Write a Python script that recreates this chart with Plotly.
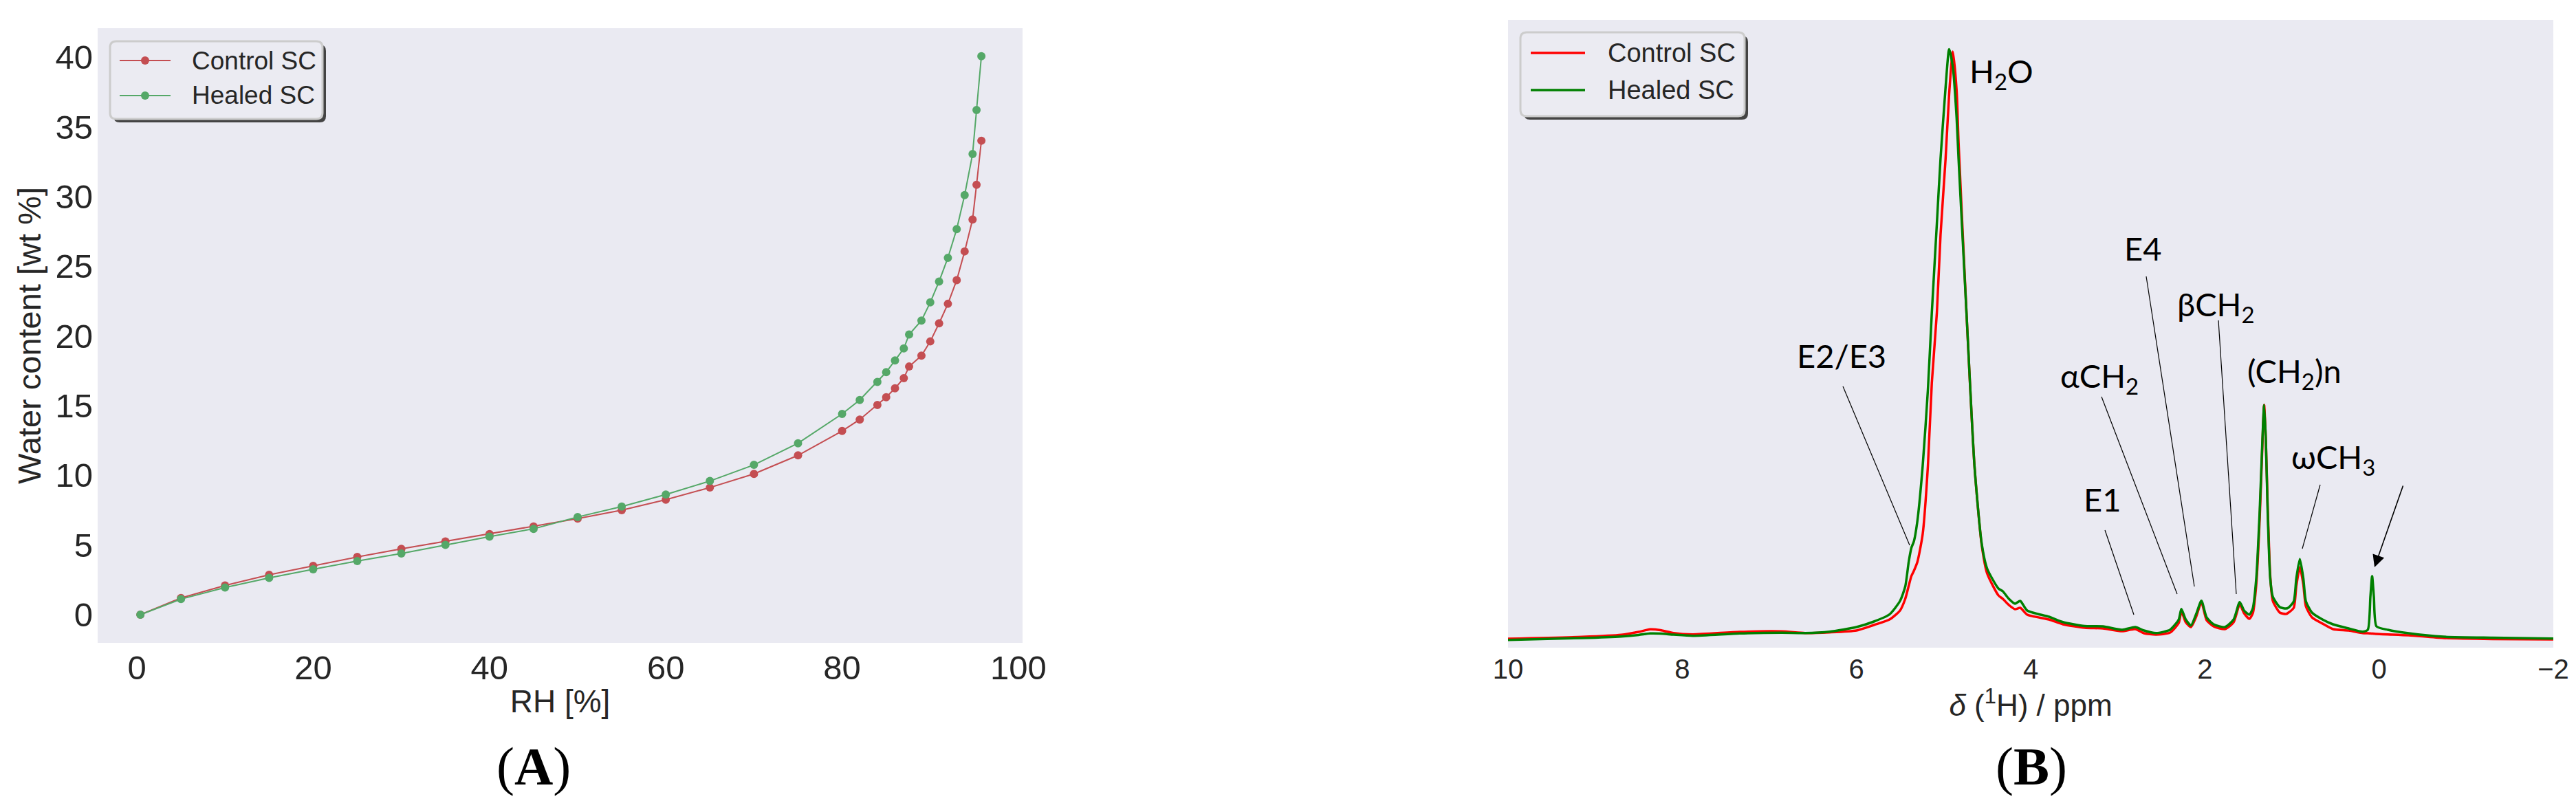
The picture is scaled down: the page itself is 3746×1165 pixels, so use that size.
import plotly.graph_objects as go

W, H = 3746, 1165

# ---- panel A: sorption isotherm ----
rh = [0.4, 5, 10, 15, 20, 25, 30, 35, 40, 45, 50, 55, 60, 65, 70, 75,
      80, 82, 84, 85, 86, 87, 87.6, 89, 90, 91, 92, 93, 93.9, 94.8, 95.25, 95.8]
water_control = [0, 1.2, 2.1, 2.86, 3.5, 4.14, 4.72, 5.26, 5.78, 6.33, 6.89, 7.5, 8.25, 9.12, 10.1, 11.43,
                 13.18, 14.0, 15.04, 15.6, 16.24, 16.97, 17.8, 18.58, 19.6, 20.9, 22.3, 24.0, 26.06, 28.35, 30.84, 34.0]
water_healed = [0, 1.12, 1.95, 2.64, 3.26, 3.85, 4.39, 5.01, 5.6, 6.16, 7.01, 7.76, 8.62, 9.59, 10.75, 12.3,
                14.4, 15.4, 16.7, 17.4, 18.24, 19.1, 20.1, 21.1, 22.4, 23.9, 25.6, 27.66, 30.1, 33.04, 36.2, 40.06]

# ---- panel B: 1H NMR spectra (intensity in a.u.) ----
ppm = [10.0, 9.15, 8.70, 8.50, 8.37, 8.25, 8.10, 7.88, 7.34, 6.86, 6.59, 6.31, 6.00, 5.80, 5.62, 5.50,
       5.44, 5.40, 5.37, 5.34, 5.30, 5.24, 5.18, 5.135, 5.077, 5.035, 4.977, 4.936, 4.894, 4.85, 4.828,
       4.737, 4.645, 4.563, 4.50, 4.37, 4.32, 4.25, 4.18, 4.12, 4.04, 3.79, 3.63, 3.38, 3.17, 2.95, 2.80,
       2.70, 2.56, 2.40, 2.30, 2.27, 2.22, 2.16, 2.10, 2.04, 1.98, 1.90, 1.77, 1.67, 1.60, 1.55, 1.49,
       1.45, 1.41, 1.37, 1.34, 1.32, 1.30, 1.28, 1.25, 1.22, 1.14, 1.07, 1.04, 0.98, 0.95, 0.91, 0.87,
       0.84, 0.77, 0.65, 0.53, 0.35, 0.19, 0.13, 0.10, 0.08, 0.06, 0.03, -0.10, -0.34, -0.74, -1.30, -2.00]
int_healed = [11.3, 14, 16.3, 18.5, 20.7, 20.5, 19, 17.3, 20.7, 21.7, 21.3, 23.3, 30, 38, 48.5, 68,
              89, 125, 145, 155, 185, 264, 375, 487, 617, 711, 815, 870.6, 845, 770, 711,
              487, 264, 152, 115, 86, 82, 71, 64, 68, 54, 45, 37.3, 31.4, 31, 26, 30,
              25, 21.3, 26, 41, 56.3, 41, 32.3, 49, 68.3, 44, 34, 30, 41, 66.3, 54, 48,
              57.3, 101, 201, 301, 353, 301, 201, 101, 74, 59, 57, 58.3, 67.3, 101, 129, 101,
              67.3, 51, 41, 34, 28, 23.3, 26, 74, 104, 74, 31, 26, 21, 16, 14.5, 13.3]
int_control = [13, 15.7, 18.7, 23, 26.7, 25.5, 21.3, 19.3, 23, 23.7, 21.3, 22.3, 25, 33, 41, 54,
               71, 90, 104, 112, 125, 165, 264, 385, 487, 600, 711, 805, 867, 810, 735,
               487, 264, 150, 108, 76, 71, 62, 56, 58, 48, 41, 34, 29, 28, 24, 27,
               21, 19, 22, 36, 53, 37, 30, 45, 66, 40, 31, 27, 37, 63, 50, 42,
               50, 92, 190, 295, 353, 300, 210, 105, 68, 51, 49, 51, 58, 90, 117, 92,
               60, 44, 35, 27, 25, 21.3, 21, 20.7, 20.5, 20.3, 20, 19.3, 18, 14, 12.5, 12]

RED_A, GREEN_A = "#C44E52", "#55A868"
RED_B, GREEN_B = "#FF0000", "#008000"
BG = "#EAEAF2"
TXT = "#262626"


def px(x):
    return x / W


def py(y):
    return 1 - y / H


# pixel -> data helpers for the panel B labels
def bx(x):
    return 10 - (x - 2185) * 12 / 1520


def by(y):
    return 934 - y


fig = go.Figure()

fig.add_trace(go.Scatter(x=rh, y=water_control, name="Control SC", mode="lines+markers",
                         line=dict(color=RED_A, width=2), marker=dict(size=12, color=RED_A),
                         xaxis="x", yaxis="y"))
fig.add_trace(go.Scatter(x=rh, y=water_healed, name="Healed SC", mode="lines+markers",
                         line=dict(color=GREEN_A, width=2), marker=dict(size=12, color=GREEN_A),
                         xaxis="x", yaxis="y"))

fig.add_trace(go.Scatter(x=ppm, y=int_control, name="Control SC", mode="lines",
                         line=dict(color=RED_B, width=3.5, shape="spline", smoothing=0.6),
                         xaxis="x2", yaxis="y2"))
fig.add_trace(go.Scatter(x=ppm, y=int_healed, name="Healed SC", mode="lines",
                         line=dict(color=GREEN_B, width=3.5, shape="spline", smoothing=0.6),
                         xaxis="x2", yaxis="y2"))

tick_font_a = dict(family="Liberation Sans, Arial", size=49, color=TXT)
tick_font_b = dict(family="Liberation Sans, Arial", size=40, color=TXT)

fig.update_layout(
    width=W, height=H,
    margin=dict(l=0, r=0, t=0, b=0, autoexpand=False),
    paper_bgcolor="white", plot_bgcolor=BG,
    showlegend=False,
    xaxis=dict(domain=[px(134), px(1479)], range=[-4.45, 100.47], anchor="y", automargin=False,
               tickvals=[0, 20, 40, 60, 80, 100], showgrid=False, zeroline=False,
               showline=False, ticks="", tickfont=tick_font_a, ticklabelstandoff=3,
               title=dict(text="RH [%]", font=dict(family="Liberation Sans, Arial", size=46, color=TXT),
                          standoff=6)),
    yaxis=dict(domain=[py(927), py(33)], range=[-2.02, 42.07], anchor="x", automargin=False,
               tickvals=[0, 5, 10, 15, 20, 25, 30, 35, 40], showgrid=False, zeroline=False,
               showline=False, ticks="", tickfont=tick_font_a, ticklabelstandoff=6,
               title=dict(text="Water content [wt %]",
                          font=dict(family="Liberation Sans, Arial", size=47, color=TXT), standoff=6)),
    xaxis2=dict(domain=[px(2185), px(3705)], range=[10, -2], anchor="y2", automargin=False,
                tickvals=[10, 8, 6, 4, 2, 0, -2], ticktext=["10", "8", "6", "4", "2", "0", "\u22122"],
                showgrid=False, zeroline=False, showline=False, ticks="", tickfont=tick_font_b,
                ticklabelstandoff=4,
                title=dict(text="<i>\u03b4</i> (<sup>1</sup>H) / ppm",
                           font=dict(family="Liberation Sans, Arial", size=44, color=TXT), standoff=6)),
    yaxis2=dict(domain=[py(934), py(21)], range=[0, 913], anchor="x2", automargin=False,
                showticklabels=False, showgrid=False, zeroline=False, showline=False, ticks=""),
)


def rrect(x0, y0, x1, y1, r):
    def P(x, y):
        return f"{px(x):.6f},{py(y):.6f}"
    return (f"M{P(x0 + r, y0)} L{P(x1 - r, y0)} Q{P(x1, y0)} {P(x1, y0 + r)} "
            f"L{P(x1, y1 - r)} Q{P(x1, y1)} {P(x1 - r, y1)} L{P(x0 + r, y1)} "
            f"Q{P(x0, y1)} {P(x0, y1 - r)} L{P(x0, y0 + r)} Q{P(x0, y0)} {P(x0 + r, y0)} Z")


shapes = []
annotations = []


def legend_box(x0, y0, x1, y1, entries, font_size, line_w, marker):
    shapes.append(dict(type="path", xref="paper", yref="paper", path=rrect(x0 + 5, y0 + 5, x1 + 5, y1 + 5, 9),
                       fillcolor="#444444", line=dict(width=0)))
    shapes.append(dict(type="path", xref="paper", yref="paper", path=rrect(x0, y0, x1, y1, 9),
                       fillcolor="#EBEBF2", line=dict(color="#CCCCCC", width=3)))
    for (lx0, lx1, ly, tx, color, label) in entries:
        shapes.append(dict(type="line", xref="paper", yref="paper", x0=px(lx0), x1=px(lx1),
                           y0=py(ly), y1=py(ly), line=dict(color=color, width=line_w)))
        if marker:
            mx = (lx0 + lx1) / 2
            shapes.append(dict(type="circle", xref="paper", yref="paper", xsizemode="pixel",
                               ysizemode="pixel", xanchor=px(mx), yanchor=py(ly),
                               x0=-6, x1=6, y0=-6, y1=6, fillcolor=color, line=dict(width=0)))
        annotations.append(dict(xref="paper", yref="paper", x=px(tx), y=py(ly), text=label,
                                showarrow=False, xanchor="left", yanchor="middle",
                                font=dict(family="Liberation Sans, Arial", size=font_size, color=TXT)))


legend_box(152, 52, 461, 165,
           [(166, 240, 80, 269, RED_A, "Control SC"), (166, 240, 131, 269, GREEN_A, "Healed SC")],
           37, 2, True)
legend_box(2203, 39, 2529, 161,
           [(2218, 2297, 69, 2328, RED_B, "Control SC"), (2218, 2297, 123, 2328, GREEN_B, "Healed SC")],
           38, 3.5, False)

# peak labels of panel B
lab_font = dict(family="Lato, Noto Sans", size=47, color="black")
labels = [
    ("H<sub>2</sub>O", 2902, 99),
    ("E2/E3", 2670, 509),
    ("\u03b1CH<sub>2</sub>", 3045, 541),
    ("E1", 3049, 718),
    ("E4", 3108, 353),
    ("\u03b2CH<sub>2</sub>", 3214, 438),
    ("(CH<sub>2</sub>)n", 3328, 534),
    ("\u03c9CH<sub>3</sub>", 3385, 659),
]
for text, x, y in labels:
    annotations.append(dict(xref="x2", yref="y2", x=bx(x), y=by(y), text=text, showarrow=False,
                            xanchor="center", yanchor="middle", font=lab_font))

leaders = [
    (2672, 554, 2769, 785),
    (3048, 569, 3158, 856),
    (3053, 763, 3095, 886),
    (3113, 394, 3183, 845),
    (3218, 458, 3244, 856),
    (3366, 697, 3340, 790),
]
for x0, y0, x1, y1 in leaders:
    shapes.append(dict(type="line", xref="x2", yref="y2", x0=bx(x0), y0=by(y0), x1=bx(x1), y1=by(y1),
                       line=dict(color="black", width=1.2)))

annotations.append(dict(xref="x2", yref="y2", x=bx(3445), y=by(817), ax=42, ay=-120, text="",
                        showarrow=True, arrowhead=2, arrowsize=2.2, arrowwidth=1.6, arrowcolor="black"))

# panel letters
for text, x in [("(<b>A</b>)", 768), ("(<b>B</b>)", 2946)]:
    annotations.append(dict(xref="paper", yref="paper", x=px(x), y=py(1106), text=text, showarrow=False,
                            xanchor="center", yanchor="middle",
                            font=dict(family="Liberation Serif, Times New Roman", size=78, color="black")))

fig.update_layout(shapes=shapes, annotations=annotations)

fig.write_html("out.html")
